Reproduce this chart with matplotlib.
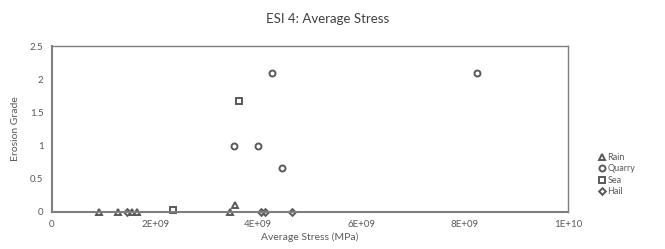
import matplotlib.pyplot as plt
from matplotlib.ticker import FixedLocator

plt.rcParams['font.family'] = ['Lato', 'DejaVu Sans']

# Data (stress in MPa, erosion grade)
rain_x = [0.91e9, 1.28e9, 1.55e9, 1.65e9, 3.46e9, 3.54e9]
rain_y = [0, 0, 0, 0, 0, 0.1]
quarry_x = [4.27e9, 3.52e9, 4.0e9, 4.45e9, 8.24e9]
quarry_y = [2.1, 1.0, 1.0, 0.66, 2.1]
sea_x = [3.62e9, 2.34e9]
sea_y = [1.67, 0.03]
hail_x = [1.45e9, 4.06e9, 4.13e9, 4.66e9]
hail_y = [0, 0, 0, 0]

xticks = [0, 2e9, 4e9, 6e9, 8e9, 1e10]
xtick_labels = ["0", "2E+09", "4E+09", "6E+09", "8E+09", "1E+10"]
yticks = [0, 0.5, 1, 1.5, 2, 2.5]
ytick_labels = ["0", "0.5", "1", "1.5", "2", "2.5"]

fig = plt.figure(figsize=(6.65, 2.49), dpi=100)
ax = fig.add_axes([0.078, 0.149, 0.776, 0.666])

edge = "#595959"
kw = dict(linestyle="none", markerfacecolor="none", markeredgecolor=edge,
          markeredgewidth=1.4, clip_on=False)
ax.plot(rain_x, rain_y, marker="^", markersize=4.5, label="Rain", **kw)
ax.plot(quarry_x, quarry_y, marker="o", markersize=4.3, label="Quarry", **kw)
ax.plot(sea_x, sea_y, marker="s", markersize=4.3, label="Sea", **kw)
ax.plot(hail_x, hail_y, marker="D", markersize=3.4, label="Hail", **kw)

ax.set_xlim(0, 1e10)
ax.set_ylim(0, 2.5)
ax.xaxis.set_major_locator(FixedLocator(xticks))
ax.set_xticklabels(xtick_labels)
ax.yaxis.set_major_locator(FixedLocator(yticks))
ax.set_yticklabels(ytick_labels)
ax.tick_params(length=0, labelsize=7, colors="#595959", pad=6)

for side, sp in ax.spines.items():
    sp.set_color("#7f7f7f")
    sp.set_linewidth(1.0)
ax.spines["bottom"].set_linewidth(1.5)
ax.spines["left"].set_linewidth(1.5)

ax.set_xlabel("Average Stress (MPa)", fontsize=7.5, color="#595959", labelpad=2)
ax.set_ylabel("Erosion Grade", fontsize=7.5, color="#595959", labelpad=7)
fig.text(0.493, 0.925, "ESI 4: Average Stress", ha="center", va="center",
         fontsize=9.5, color="#404040")

leg = ax.legend(loc="center left", bbox_to_anchor=(1.05, 0.225), frameon=False,
                fontsize=6.5, handletextpad=0.1, labelspacing=0.25,
                handlelength=1.0, borderaxespad=0)
for t in leg.get_texts():
    t.set_color("#595959")

fig.savefig("out.png", dpi=100)
